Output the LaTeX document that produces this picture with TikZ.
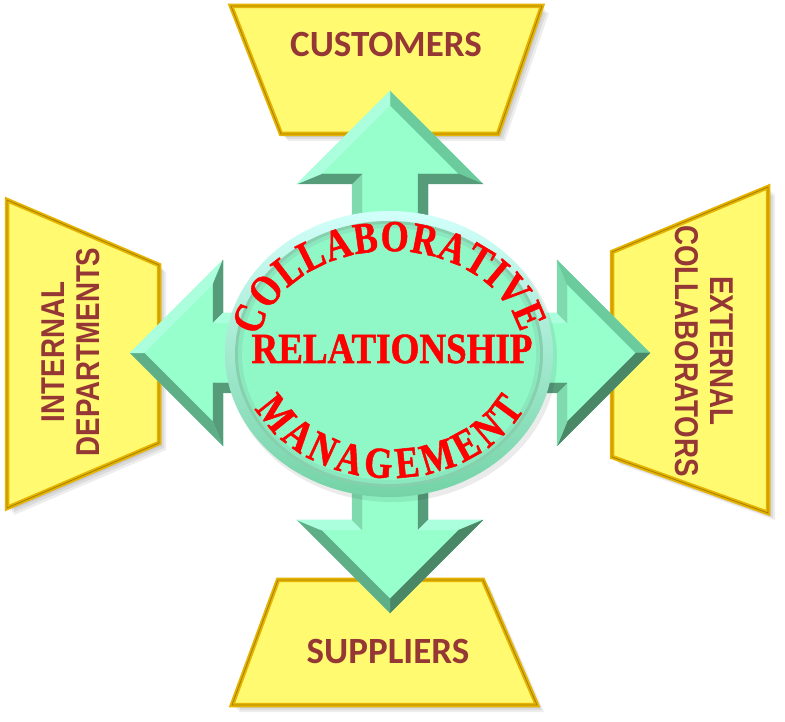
\documentclass[tikz,border=0pt]{standalone}
\usepackage{fontspec}
\newfontfamily\boxfont{Carlito}
\newfontfamily\narrowfont[FakeStretch=0.84]{Liberation Sans}
\newfontfamily\arcfont[FakeStretch=0.86,FakeBold=1.2]{Liberation Serif}
\newfontfamily\curvefont[FakeStretch=0.82,FakeBold=1.2]{Liberation Serif}
\definecolor{boxfill}{HTML}{FFFA70}
\definecolor{boxgold}{HTML}{E6B400}
\definecolor{boxdark}{HTML}{A88200}
\definecolor{boxtext}{HTML}{953735}
\definecolor{arrowface}{HTML}{96FFCC}
\definecolor{bvLight}{HTML}{ABFFDC}
\definecolor{bvMedLight}{HTML}{7FDBAE}
\definecolor{bvMed}{HTML}{6CCB9C}
\definecolor{bvMedDark}{HTML}{5EAF88}
\definecolor{bvDark}{HTML}{569B7A}
\definecolor{bvDarkest}{HTML}{4A8767}
\definecolor{ellTop}{HTML}{D2FFFA}
\definecolor{ellBottom}{HTML}{74D3A6}
\definecolor{ellBlur}{HTML}{86D0AE}
\definecolor{ellRim}{HTML}{8BE8BE}
\definecolor{ellFace}{HTML}{8FF8C6}
\definecolor{ctrred}{HTML}{FF0000}
\begin{document}
\begin{tikzpicture}[x=1pt,y=1pt,
  boxshape/.style={fill=boxfill, draw=boxgold, line width=4.5pt, line join=miter},
  boxedge/.style={draw=boxdark, line width=0.9pt, line join=miter},
  boxshadow/.style={fill=black, opacity=0.07},
  boxlabel/.style={text=boxtext, font=\boxfont\bfseries\fontsize{37}{40}\selectfont, inner sep=0pt},
  sidelabel/.style={text=boxtext, font=\narrowfont\bfseries\fontsize{33}{35}\selectfont, align=center, inner sep=0pt},
  ctrlabel/.style={text=ctrred, font=\arcfont\bfseries\fontsize{43}{46}\selectfont, inner sep=0pt},
  arcletter/.style={text=ctrred, font=\curvefont\bfseries\fontsize{44}{46}\selectfont, inner sep=0pt, anchor=base}]
\useasboundingbox (0,0) rectangle (785,721);
\fill[white] (0,0) rectangle (785,721);

% ---- shadows of the boxes
\foreach \s in {3,5,7}{
  \begin{scope}[shift={(\s,-\s)}]
    \fill[boxshadow] (231,715) -- (542,715) -- (498,587) -- (281,587) -- cycle;
    \fill[boxshadow] (7,521) -- (159,456) -- (159,278) -- (7,213) -- cycle;
    \fill[boxshadow] (768,534) -- (612,469) -- (612,264) -- (768,208) -- cycle;
    \fill[boxshadow] (278,141) -- (483,141) -- (537,16) -- (232,16) -- cycle;
  \end{scope}
}
% ---- boxes
\path[boxshape] (231,715) -- (542,715) -- (498,587) -- (281,587) -- cycle;
\path[boxedge] (231,715) -- (542,715) -- (498,587) -- (281,587) -- cycle;
\path[boxshape] (7,521) -- (159,456) -- (159,278) -- (7,213) -- cycle;
\path[boxedge] (7,521) -- (159,456) -- (159,278) -- (7,213) -- cycle;
\path[boxshape] (768,534) -- (612,469) -- (612,264) -- (768,208) -- cycle;
\path[boxedge] (768,534) -- (612,469) -- (612,264) -- (768,208) -- cycle;
\path[boxshape] (278,141) -- (483,141) -- (537,16) -- (232,16) -- cycle;
\path[boxedge] (278,141) -- (483,141) -- (537,16) -- (232,16) -- cycle;

\node[boxlabel] (cust) at (386,676) {CUSTOMERS};
\node[boxlabel] (supp) at (388,69) {SUPPLIERS};
\node[sidelabel, rotate=90] (intd) at (71,369) {INTERNAL\\DEPARTMENTS};
\node[sidelabel, rotate=-90] (extc) at (704,370) {EXTERNAL\\COLLABORATORS};

% ---- four-way arrow
\begin{scope}[shift={(390,368)}]
  \coordinate (P1) at (0,262);   \coordinate (Q1) at (0,247.9);
  \coordinate (P2) at (93,169);  \coordinate (Q2) at (68.9,179);
  \coordinate (P3) at (38,169);  \coordinate (Q3) at (28,179);
  \coordinate (P4) at (38,40);   \coordinate (Q4) at (28,30);
  \coordinate (P5) at (167,40);  \coordinate (Q5) at (177,30);
  \coordinate (P6) at (167,93);  \coordinate (Q6) at (177,68.9);
  \coordinate (P7) at (260,0);   \coordinate (Q7) at (245.9,0);
  \coordinate (P8) at (167,-93); \coordinate (Q8) at (177,-68.9);
  \coordinate (P9) at (167,-40); \coordinate (Q9) at (177,-30);
  \coordinate (P10) at (38,-40); \coordinate (Q10) at (28,-30);
  \coordinate (P11) at (38,-167); \coordinate (Q11) at (28,-177);
  \coordinate (P12) at (93,-167); \coordinate (Q12) at (68.9,-177);
  \coordinate (P13) at (0,-260);  \coordinate (Q13) at (0,-245.9);
  \coordinate (P14) at (-93,-167); \coordinate (Q14) at (-68.9,-177);
  \coordinate (P15) at (-38,-167); \coordinate (Q15) at (-28,-177);
  \coordinate (P16) at (-38,-40);  \coordinate (Q16) at (-28,-30);
  \coordinate (P17) at (-167,-40); \coordinate (Q17) at (-177,-30);
  \coordinate (P18) at (-167,-93); \coordinate (Q18) at (-177,-68.9);
  \coordinate (P19) at (-260,0);   \coordinate (Q19) at (-245.9,0);
  \coordinate (P20) at (-167,93);  \coordinate (Q20) at (-177,68.9);
  \coordinate (P21) at (-167,40);  \coordinate (Q21) at (-177,30);
  \coordinate (P22) at (-38,40);   \coordinate (Q22) at (-28,30);
  \coordinate (P23) at (-38,169);  \coordinate (Q23) at (-28,179);
  \coordinate (P24) at (-93,169);  \coordinate (Q24) at (-68.9,179);
  \fill[arrowface] (P1) -- (P2) -- (P3) -- (P4) -- (P5) -- (P6) -- (P7) -- (P8)
    -- (P9) -- (P10) -- (P11) -- (P12) -- (P13) -- (P14) -- (P15) -- (P16)
    -- (P17) -- (P18) -- (P19) -- (P20) -- (P21) -- (P22) -- (P23) -- (P24) -- cycle;
  \foreach \i/\j/\c in {1/2/bvMed, 2/3/bvDark, 3/4/bvDark, 4/5/bvLight,
      5/6/bvMedLight, 6/7/bvMed, 7/8/bvDarkest, 8/9/bvMedLight, 9/10/bvDark,
      10/11/bvDark, 11/12/bvLight, 12/13/bvDarkest, 13/14/bvMedDark,
      14/15/bvLight, 15/16/bvMedLight, 16/17/bvDark, 17/18/bvDark,
      18/19/bvMedDark, 19/20/bvLight, 20/21/bvDark, 21/22/bvLight,
      22/23/bvMedLight, 23/24/bvDark, 24/1/bvLight}
    \filldraw[fill=\c, draw=\c, line width=0.3pt, line join=round]
      (P\i) -- (P\j) -- (Q\j) -- (Q\i) -- cycle;
\end{scope}

% ---- central disc
\fill[black, opacity=0.08] (392,363) ellipse [x radius=165, y radius=144];
\shade[top color=ellTop, bottom color=ellBottom] (389,367) ellipse [x radius=164, y radius=143];
\fill[ellBlur] (389,367) ellipse [x radius=154, y radius=133];
\fill[ellRim] (389,367) ellipse [x radius=151, y radius=130];
\fill[ellFace] (389,367) ellipse [x radius=147, y radius=126];

% ---- central texts
\node[ctrlabel, anchor=base] (rel) at (392,358) {RELATIONSHIP};
% upper arc: letters stand outward, read left to right
\foreach \t/\ch [count=\k] in {162.9/C, 148.2/O, 134.8/L, 123.0/L, 111.3/A, 99.9/B,
    88.1/O, 76.0/R, 64.1/A, 52.2/T, 42.6/I, 32.2/V, 18.5/E}
  \node[arcletter, rotate={atan2(-103*cos(\t),133*sin(\t))}] (top\k)
    at ({390+133*cos(\t)},{367+103*sin(\t)}) {\ch};
% lower arc: letters stand inward, read left to right
\foreach \t/\ch [count=\k] in {213.5/M, 228.3/A, 240.8/N, 253.0/A, 265.2/G,
    277.1/E, 290.2/M, 303.6/E, 315.9/N, 328.6/T}
  \node[arcletter, rotate={atan2(124*cos(\t),-150*sin(\t))}] (bot\k)
    at ({390+150*cos(\t)},{367+124*sin(\t)}) {\ch};
\end{tikzpicture}
\end{document}
